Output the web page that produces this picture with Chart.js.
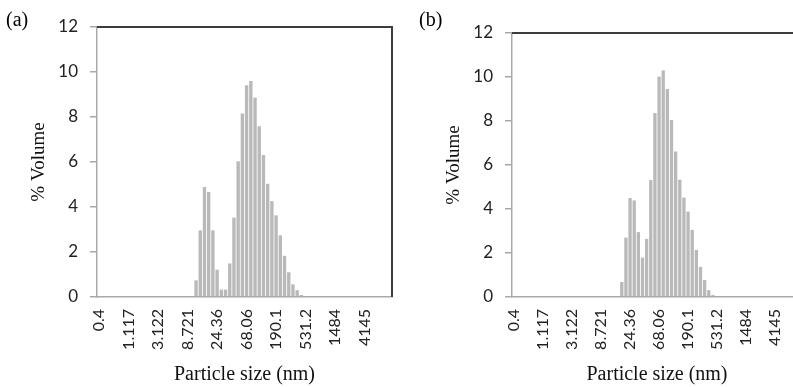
<!DOCTYPE html>
<html>
<head>
<meta charset="utf-8">
<script src="https://cdn.jsdelivr.net/npm/chart.js@4.4.1/dist/chart.umd.min.js"></script>
<style>
  html, body { margin: 0; padding: 0; background: #ffffff; }
  body { width: 793px; height: 387px; overflow: hidden; position: relative; }
  .panel { position: absolute; top: 0; height: 387px; }
  .tag { position: absolute; font-family: "Liberation Serif", "DejaVu Serif", serif; font-size: 20px; color: #000; }
</style>
</head>
<body>
<div class="panel" style="left:0;width:400px;"><canvas id="ca" width="400" height="387"></canvas></div>
<div class="panel" style="left:400px;width:410px;"><canvas id="cb" width="410" height="387"></canvas></div>
<div class="tag" style="left:6px;top:8px;">(a)</div>
<div class="tag" style="left:419px;top:8px;">(b)</div>
<script>
// ---- data ----
const tickLabels = ['0.4','1.117','3.122','8.721','24.36','68.06','190.1','531.2','1484','4145'];
const binCount = 70;
const volumeA = [
  0,0,0,0,0,0,0,0,0,0, 0,0,0,0,0,0,0,0,0,0, 0,0,0,
  0.74,2.96,4.89,4.67,2.96,1.21,0.33,0.33,1.49,3.53,6.03,8.16,9.41,9.60,8.86,7.59,6.31,5.03,4.26,3.63,2.74,1.83,1.10,0.56,0.30,0.09,
  0,0,0,0,0,0,0,0,0,0, 0,0,0,0,0,0,0,0,0,0, 0
];
const volumeB = [
  0,0,0,0,0,0,0,0,0,0, 0,0,0,0,0,0,0,0,0,0, 0,0,0,0,0,0,
  0.68,2.70,4.50,4.39,2.95,1.79,2.64,5.32,8.36,10.02,10.30,9.45,8.05,6.61,5.33,4.52,3.88,3.05,2.14,1.37,0.77,0.31,0.09,
  0,0,0,0,0,0,0,0,0,0, 0,0,0,0,0,0,0,0,0,0, 0
];
const yTitle = '% Volume';
const xTitle = 'Particle size (nm)';

// categories: 70 log-spaced size bins, labelled every 7th bin
const categories = [];
for (let i = 0; i < binCount; i++) {
  categories.push(i % 7 === 0 ? tickLabels[i / 7] : '');
}

const axisGray = '#a9a9a9';
const textDark = '#222222';

const frame = {
  id: 'frame',
  afterDraw(chart) {
    const {ctx, chartArea: a} = chart;
    ctx.save();
    ctx.strokeStyle = '#3c3c3c';
    ctx.lineWidth = 2;
    ctx.beginPath();
    ctx.moveTo(a.left, a.top);
    ctx.lineTo(a.right, a.top);
    ctx.lineTo(a.right, a.bottom);
    ctx.stroke();
    ctx.restore();
  }
};

function makeChart(id, values, yWidth, yTitlePad, pad) {
  return new Chart(document.getElementById(id), {
    type: 'bar',
    data: {
      labels: categories,
      datasets: [{
        data: values,
        backgroundColor: '#b9b9b9',
        borderWidth: 0,
        barPercentage: 0.8,
        categoryPercentage: 1.0
      }]
    },
    options: {
      responsive: false,
      animation: false,
      events: [],
      layout: { padding: pad },
      plugins: { legend: { display: false }, tooltip: { enabled: false } },
      scales: {
        x: {
          grid: { display: false, drawTicks: false },
          border: { color: axisGray, width: 1.5 },
          ticks: {
            autoSkip: false, minRotation: 90, maxRotation: 90, padding: 12,
            color: textDark, font: { family: 'Lato, "Open Sans", sans-serif', size: 16 }
          },
          title: {
            display: true, text: xTitle, color: '#111',
            font: { family: '"Liberation Serif", serif', size: 20 },
            padding: { top: 0, bottom: 0 }
          },
          afterFit(s) { s.height = 90; s.paddingLeft = 0; s.paddingRight = 0; }
        },
        y: {
          min: 0, max: 12,
          ticks: {
            stepSize: 2, padding: 12, color: textDark,
            font: { family: 'Lato, "Open Sans", sans-serif', size: 17 }
          },
          grid: { drawOnChartArea: false, drawTicks: true, tickLength: 7, color: axisGray, lineWidth: 1.5 },
          border: { color: axisGray, width: 1.5 },
          title: {
            display: true, text: yTitle, color: '#111',
            font: { family: '"Liberation Serif", serif', size: 19 },
            padding: { top: yTitlePad, bottom: 0 }
          },
          afterFit(s) { s.width = yWidth; s.paddingTop = 0; s.paddingBottom = 0; }
        }
      }
    },
    plugins: [frame]
  });
}

makeChart('ca', volumeA, 97, 28, { left: 0, right: 8, top: 27, bottom: 0 });
makeChart('cb', volumeB, 112, 43, { left: 0, right: 8, top: 33, bottom: 0 });
</script>
</body>
</html>
